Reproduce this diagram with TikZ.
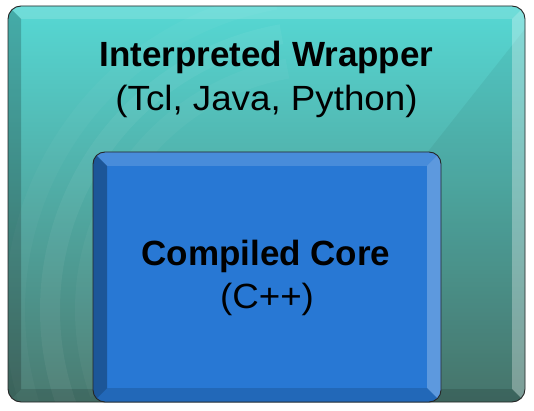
\documentclass[tikz,border=0pt]{standalone}
\usepackage{fontspec}
\setmainfont{Liberation Sans}
\newfontfamily\subfont[FakeStretch=1.05]{Liberation Sans}
\usetikzlibrary{backgrounds}

\definecolor{wraptop}{RGB}{86,216,212}
\definecolor{wrapmid}{RGB}{72,186,180}
\definecolor{wrapbot}{RGB}{74,122,112}
\definecolor{coreblue}{RGB}{40,120,212}

\tikzset{
  boxline/.style={draw=black!85, line width=0.9pt},
  boxtitle/.style={font=\fontsize{35}{42}\selectfont\bfseries, anchor=base, inner sep=0pt},
  boxsub/.style={font=\fontsize{35}{42}\selectfont\subfont, anchor=base, inner sep=0pt},
}

% bevel bands: left, top, right, bottom, width, radius, light top, dark left, light right
\newcommand\bevelbands[9]{%
  \begin{scope}
    \clip[rounded corners=#6pt] (#1,#2) rectangle (#3,#4);
    \fill[white, opacity=#7] (#1,#2) -- (#3,#2) -- (#3-#5,#2+#5) -- (#1+#5,#2+#5) -- cycle;
    \fill[black, opacity=#8] (#1,#2) -- (#1+#5,#2+#5) -- (#1+#5,#4-#5) -- (#1,#4) -- cycle;
    \fill[white, opacity=#9] (#3,#2) -- (#3-#5,#2+#5) -- (#3-#5,#4-#5) -- (#3,#4) -- cycle;
    \fill[black, opacity=.13] (#1,#4) -- (#1+#5,#4-#5) -- (#3-#5,#4-#5) -- (#3,#4) -- cycle;
  \end{scope}}

\begin{document}
\begin{tikzpicture}[x=1pt, y=-1pt]
\useasboundingbox (0,0) rectangle (534,411);

% outer wrapper box
\coordinate (arcc) at (330,310);
\shade[top color=wraptop, middle color=wrapmid, bottom color=wrapbot, rounded corners=13pt]
  (8,6) rectangle (525,402);
\begin{scope}
  \clip[rounded corners=13pt] (8,6) rectangle (525,402);
  \foreach \r/\o in {245/.035, 280/.05, 315/.03} {
    \draw[white, opacity=\o, line width=20pt] (arcc) ++(100:\r pt) arc (100:200:\r pt);
  }
  \fill[black, opacity=.05] (540,10) -- (540,402) -- (230,402) -- cycle;
\end{scope}
\bevelbands{8}{6}{525}{402}{13}{13}{.15}{.2}{.30}
\draw[boxline, rounded corners=13pt] (8,6) rectangle (525,402);

% inner core box
\fill[coreblue, rounded corners=12pt] (93,152) rectangle (441,402);
\bevelbands{93}{152}{441}{402}{14}{12}{.15}{.28}{.25}
\draw[boxline, rounded corners=12pt] (93,152) rectangle (441,402);

\node[boxtitle] (wrapname) at (266.5,67) {Interpreted Wrapper};
\node[boxsub] (wraplangs) at (266.5,111) {(Tcl, Java, Python)};
\node[boxtitle] (corename) at (266,265) {Compiled Core};
\node[boxsub] (corelang) at (267,308) {(C++)};
\end{tikzpicture}
\end{document}
